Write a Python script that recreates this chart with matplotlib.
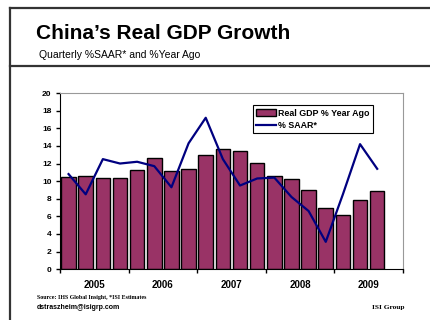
import matplotlib.pyplot as plt
import numpy as np
from matplotlib.lines import Line2D

plt.rcParams['font.family'] = ['Liberation Sans', 'DejaVu Sans']

years = ['2005', '2006', '2007', '2008', '2009']
# quarterly data, 2005Q1 - 2009Q3
yoy = [10.5, 10.6, 10.3, 10.4, 11.3, 12.6, 11.2, 11.4, 13.0, 13.7,
       13.4, 12.1, 10.6, 10.2, 9.0, 7.0, 6.1, 7.9, 8.9]
saar = [10.8, 8.5, 12.5, 12.0, 12.2, 11.7, 9.3, 14.3, 17.2, 12.5,
        9.5, 10.3, 10.4, 8.2, 6.6, 3.1, 8.5, 14.2, 11.4]

fig = plt.figure(figsize=(4.3, 3.2), dpi=100)

# page frame
fc = '#333333'
fig.add_artist(Line2D([0.023, 0.023], [0, 0.975], color=fc, lw=1.6))
fig.add_artist(Line2D([0.023, 1], [0.975, 0.975], color=fc, lw=1.6))
fig.add_artist(Line2D([0.023, 1], [0.793, 0.793], color=fc, lw=1.6))

fig.text(0.084, 0.877, 'China\u2019s Real GDP Growth', fontsize=15,
         fontweight='bold', va='baseline')
fig.text(0.091, 0.82, 'Quarterly %SAAR* and %Year Ago', fontsize=7.5,
         va='baseline')

ax = fig.add_axes([0.1395, 0.159, 0.7975, 0.55])
x = np.arange(len(yoy)) + 0.5
bars = ax.bar(x, yoy, width=0.85, color='#993366', edgecolor='black', lw=1,
              zorder=2)
line, = ax.plot(x, saar, color='#000080', lw=1.6, zorder=3)

ax.set_xlim(0, 20)
ax.set_ylim(0, 20)
ax.set_yticks(np.arange(0, 21, 2))
ax.set_xticks(np.arange(0, 21, 4))
ax.set_xticklabels([])
ax.set_xticks(np.arange(2, 20, 4), minor=True)
ax.set_xticklabels(years, minor=True)
ax.tick_params(axis='x', which='major', direction='out', length=3, width=1)
ax.tick_params(axis='x', which='minor', length=0, pad=8, labelsize=7)
ax.tick_params(axis='y', direction='out', length=3, width=1, pad=3,
               labelsize=6)
for lab in ax.get_xticklabels(minor=True) + ax.get_yticklabels():
    lab.set_fontweight('bold')

for s in ['top', 'right']:
    ax.spines[s].set_color('#999999')
for s in ['left', 'bottom']:
    ax.spines[s].set_color('black')

leg = ax.legend([bars, line], ['Real GDP % Year Ago', '% SAAR*'],
                loc='upper left', bbox_to_anchor=(0.563, 0.93),
                fancybox=False, edgecolor='black', framealpha=1,
                prop={'weight': 'bold', 'size': 6.4}, borderpad=0.35,
                handlelength=2.2, handletextpad=0.3, labelspacing=0.35,
                borderaxespad=0)
leg.get_frame().set_linewidth(0.8)

fig.text(0.086, 0.066, 'Source: IHS Global Insight, *ISI Estimates',
         fontsize=4.3, fontweight='bold', family='Liberation Serif',
         va='baseline')
fig.text(0.086, 0.034, 'dstraszheim@isigrp.com', fontsize=5.0,
         fontweight='bold', va='baseline')
fig.text(0.94, 0.034, 'ISI Group', fontsize=5.3, fontweight='bold',
         family='Liberation Serif', ha='right', va='baseline')

fig.savefig('out.png', dpi=100)
